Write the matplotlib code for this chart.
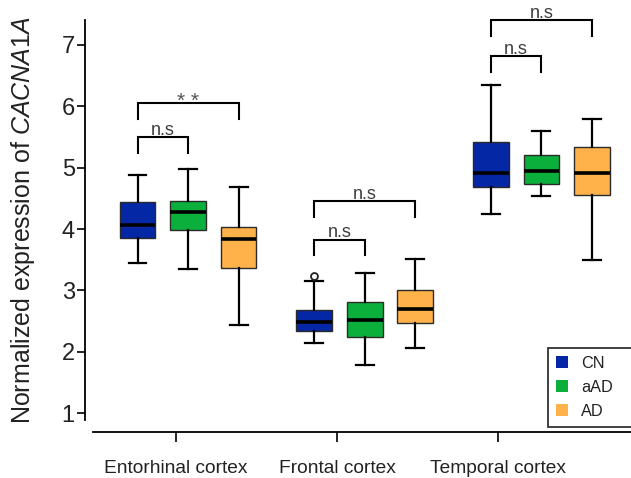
import matplotlib
matplotlib.use("Agg")
import matplotlib.pyplot as plt
from matplotlib.patches import Patch

plt.rcParams['font.family'] = ['Liberation Sans', 'DejaVu Sans']
plt.rcParams['mathtext.fontset'] = 'custom'
plt.rcParams['mathtext.rm'] = 'Liberation Sans'
plt.rcParams['mathtext.it'] = 'Liberation Sans:italic'

# ---------------- data ----------------
categories = ["Entorhinal cortex", "Frontal cortex", "Temporal cortex"]
series = ["CN", "aAD", "AD"]
colors = ["#0427A6", "#0BB03C", "#FFB24A"]

# per region: [whisker low, Q1, median, Q3, whisker high]
cn_stats = [[3.44, 3.85, 4.06, 4.44, 4.88],
            [2.14, 2.34, 2.48, 2.68, 3.16],
            [4.24, 4.69, 4.92, 5.42, 6.34]]
aad_stats = [[3.35, 3.99, 4.27, 4.46, 4.98],
             [1.79, 2.25, 2.52, 2.81, 3.29],
             [4.54, 4.73, 4.95, 5.20, 5.60]]
ad_stats = [[2.43, 3.36, 3.84, 4.04, 4.69],
            [2.07, 2.47, 2.70, 3.01, 3.51],
            [3.50, 4.55, 4.91, 5.34, 5.80]]
cn_outliers = [[], [3.24], []]
aad_outliers = [[], [], []]
ad_outliers = [[], [], []]

# significance brackets: (region, series from, series to, bar height, label)
brackets = [(0, 0, 1, 5.50, "n.s"), (0, 0, 2, 6.06, "**"),
            (1, 0, 1, 3.83, "n.s"), (1, 0, 2, 4.46, "n.s"),
            (2, 0, 1, 6.82, "n.s"), (2, 0, 2, 7.41, "n.s")]
leg_len = 0.26

yticks = [1, 2, 3, 4, 5, 6, 7]

# ---------------- layout ----------------
W, H = 631, 478
fig = plt.figure(figsize=(W / 100, H / 100), dpi=100)
ax = fig.add_axes([93 / W, 1 - 432 / H, 1 - 93 / W, (432 - 20) / H])

offsets = [-0.286, 0.0, 0.286]
box_w = 0.202
tick_pos = [-0.068, 0.843, 1.754]

all_stats = [cn_stats, aad_stats, ad_stats]
all_out = [cn_outliers, aad_outliers, ad_outliers]

for si, (st, outl, col) in enumerate(zip(all_stats, all_out, colors)):
    bstats = []
    pos = []
    for r in range(len(categories)):
        lo, q1, med, q3, hi = st[r]
        bstats.append(dict(whislo=lo, q1=q1, med=med, q3=q3, whishi=hi,
                           fliers=outl[r]))
        pos.append(r + offsets[si])
    ax.bxp(bstats, positions=pos, widths=box_w, patch_artist=True,
           showfliers=True,
           boxprops=dict(facecolor=col, edgecolor="#2a2a2a", linewidth=1.0),
           medianprops=dict(color="black", linewidth=2.6, solid_capstyle="butt"),
           whiskerprops=dict(color="black", linewidth=1.6),
           capprops=dict(color="black", linewidth=1.6),
           flierprops=dict(marker="o", markersize=5, markerfacecolor="white",
                           markeredgecolor="#222222", markeredgewidth=1.3),
           manage_ticks=False, zorder=3)

# brackets
for (r, a, b, yb, lab) in brackets:
    xa = r + offsets[a]
    xb = r + offsets[b]
    ax.plot([xa, xa, xb, xb], [yb - leg_len, yb, yb, yb - leg_len],
            color="black", lw=1.5, clip_on=False, solid_joinstyle="miter",
            zorder=4)
    if lab == "n.s":
        ax.annotate(lab, xy=((xa + xb) / 2, yb), xytext=(0, 1.5),
                    textcoords="offset points", ha="center", va="baseline",
                    fontsize=13, color="#3c3c3c", annotation_clip=False)
    else:
        txt = " ".join(lab)
        ax.annotate(txt, xy=((xa + xb) / 2, yb), xytext=(0, -3.5),
                    textcoords="offset points", ha="center", va="baseline",
                    fontsize=15, color="#555555", annotation_clip=False)

ax.set_xlim(-0.538, 2.507)
ax.set_ylim(0.695, 7.405)

ax.spines["top"].set_visible(False)
ax.spines["right"].set_visible(False)
ax.spines["left"].set_position(("outward", 5.8))
ax.spines["left"].set_bounds(0.89, 7.405)
for s in ["left", "bottom"]:
    ax.spines[s].set_linewidth(1.3)
    ax.spines[s].set_color("black")

ax.set_yticks(yticks)
ax.set_yticklabels([str(v) for v in yticks], fontsize=17, color="#222222")
ax.tick_params(axis="y", direction="out", length=5.8, width=1.2, pad=1.5)
ax.set_xticks(tick_pos)
ax.set_xticklabels(categories, fontsize=13.8, color="#222222")
ax.tick_params(axis="x", direction="out", length=7, width=1.2, pad=13)

fig.text(23 / W, 1 - 220 / H, r"Normalized expression of $\it{CACNA1A}$",
         rotation=90, ha="center", va="center", fontsize=18, color="#222222")

handles = [Patch(facecolor=c, edgecolor="none") for c in colors]
leg = ax.legend(handles, series, loc="lower left",
                bbox_to_anchor=(548 / W, 51 / H, 120 / W, 87 / H),
                bbox_transform=fig.transFigure, mode="expand",
                borderaxespad=0, fontsize=11.7, frameon=True, fancybox=False,
                handlelength=0.75, handleheight=0.75, handletextpad=0.8,
                labelspacing=0.55, borderpad=0.5)
leg.get_frame().set_edgecolor("black")
leg.get_frame().set_linewidth(1.3)
for t in leg.get_texts():
    t.set_color("#222222")

fig.savefig("out.png", dpi=100)
